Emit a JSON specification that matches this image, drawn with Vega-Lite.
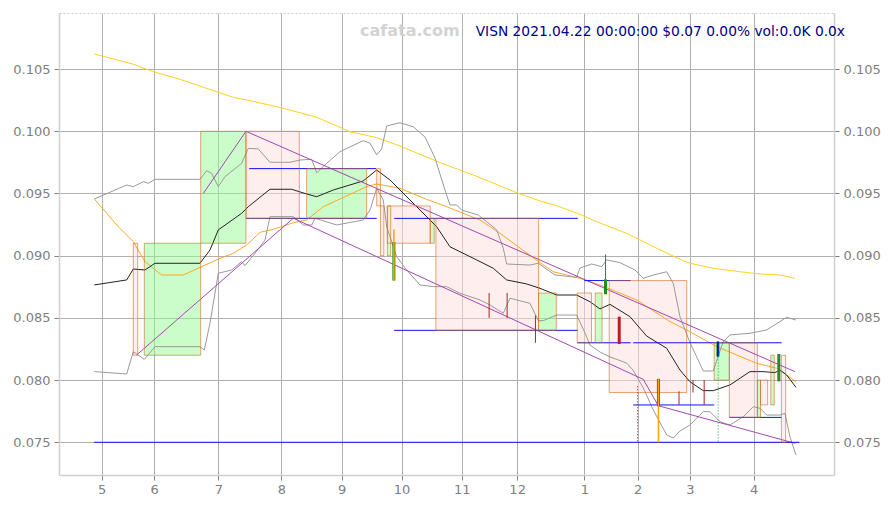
{
  "$schema": "https://vega.github.io/schema/vega-lite/v6.json",
  "width": 775,
  "height": 462,
  "autosize": {"type": "none"},
  "padding": {"left": 59, "top": 13, "right": 59, "bottom": 34},
  "background": "white",
  "title": {
    "text": "VISN 2021.04.22 00:00:00 $0.07 0.00% vol:0.0K 0.0x",
    "anchor": "end",
    "frame": "group",
    "orient": "top",
    "offset": -23,
    "baseline": "alphabetic",
    "dx": 11,
    "dy": 14,
    "font": "DejaVu Sans",
    "fontSize": 13.8,
    "fontWeight": "normal",
    "color": "#00008b"
  },
  "config": {"view": {"stroke": null}},
  "datasets": {
    "boxes": [
      {"t": 25.98, "t2": 27.52, "p": 0.091, "p2": 0.082, "dir": "down"},
      {"t": 29.83, "t2": 49.55, "p": 0.091, "p2": 0.082, "dir": "up"},
      {"t": 49.55, "t2": 65.38, "p": 0.100, "p2": 0.091, "dir": "up"},
      {"t": 65.38, "t2": 84.02, "p": 0.100, "p2": 0.093, "dir": "down"},
      {"t": 86.61, "t2": 107.59, "p": 0.097, "p2": 0.093, "dir": "up"},
      {"t": 111.1, "t2": 112.4, "p": 0.097, "p2": 0.094, "dir": "down"},
      {"t": 112.4, "t2": 113.6, "p": 0.094, "p2": 0.090, "dir": "down"},
      {"t": 114.8, "t2": 116.0, "p": 0.094, "p2": 0.090, "dir": "up"},
      {"t": 114.8, "t2": 129.8, "p": 0.094, "p2": 0.091, "dir": "down"},
      {"t": 129.8, "t2": 131.2, "p": 0.093, "p2": 0.091, "dir": "up"},
      {"t": 131.8, "t2": 167.7, "p": 0.093, "p2": 0.084, "dir": "down"},
      {"t": 167.7, "t2": 173.9, "p": 0.087, "p2": 0.084, "dir": "up"},
      {"t": 181.2, "t2": 186.2, "p": 0.087, "p2": 0.083, "dir": "down"},
      {"t": 187.5, "t2": 189.9, "p": 0.087, "p2": 0.083, "dir": "up"},
      {"t": 192.4, "t2": 219.5, "p": 0.088, "p2": 0.079, "dir": "down"},
      {"t": 229.1, "t2": 234.4, "p": 0.083, "p2": 0.080, "dir": "up"},
      {"t": 234.4, "t2": 244.2, "p": 0.083, "p2": 0.077, "dir": "down"},
      {"t": 244.2, "t2": 245.3, "p": 0.080, "p2": 0.077, "dir": "up"},
      {"t": 245.3, "t2": 247.8, "p": 0.080, "p2": 0.078, "dir": "down"},
      {"t": 248.9, "t2": 250.1, "p": 0.082, "p2": 0.078, "dir": "up"},
      {"t": 252.6, "t2": 254.1, "p": 0.082, "p2": 0.075, "dir": "down"}
    ],
    "levels": [
      {"t": 12.3, "t2": 258.9, "p": 0.075},
      {"t": 66.5, "t2": 110.9, "p": 0.097},
      {"t": 65.4, "t2": 111.1, "p": 0.093},
      {"t": 117.2, "t2": 181.4, "p": 0.093},
      {"t": 117.2, "t2": 181.4, "p": 0.084},
      {"t": 183.7, "t2": 199.9, "p": 0.088},
      {"t": 181.2, "t2": 199.9, "p": 0.083},
      {"t": 200.8, "t2": 252.7, "p": 0.083},
      {"t": 200.8, "t2": 229.1, "p": 0.078},
      {"t": 234.4, "t2": 252.6, "p": 0.077}
    ],
    "bodies": [
      {"t": 117.1, "p": 0.0911, "p2": 0.0880, "dir": "up"},
      {"t": 191.1, "p": 0.0881, "p2": 0.0869, "dir": "up"},
      {"t": 195.9, "p": 0.0851, "p2": 0.0829, "dir": "down"},
      {"t": 209.6, "p": 0.0801, "p2": 0.0779, "dir": "down"},
      {"t": 230.4, "p": 0.0831, "p2": 0.0819, "dir": "up"},
      {"t": 251.7, "p": 0.0821, "p2": 0.0799, "dir": "up"}
    ],
    "inner": [
      {"t": 117.1, "p": 0.0921, "p2": 0.0880, "kind": "spike"},
      {"t": 209.6, "p": 0.0801, "p2": 0.0750, "kind": "spike"},
      {"t": 230.4, "p": 0.0831, "p2": 0.0819, "kind": "pivot"}
    ],
    "wicks": [
      {"t": 191.1, "p": 0.0901, "p2": 0.0881, "dir": "up"},
      {"t": 150.4, "p": 0.0870, "p2": 0.0850, "dir": "down"},
      {"t": 156.7, "p": 0.0870, "p2": 0.0850, "dir": "down"},
      {"t": 166.6, "p": 0.0852, "p2": 0.0830, "dir": "down"},
      {"t": 216.8, "p": 0.0791, "p2": 0.0780, "dir": "down"},
      {"t": 221.7, "p": 0.0800, "p2": 0.0790, "dir": "down"},
      {"t": 225.6, "p": 0.0800, "p2": 0.0780, "dir": "down"}
    ],
    "dotted": [
      {"t": 230.5, "p": 0.0819, "p2": 0.0750, "dir": "up"},
      {"t": 202.3, "p": 0.0795, "p2": 0.0750, "dir": "down"}
    ],
    "label": [
      {"t": 122.7, "p": 0.1077, "text": "cafata.com"}
    ],
    "lines": [
      {"s": "ma_long", "t": 12.34, "p": 0.10622},
      {"s": "ma_long", "t": 25.98, "p": 0.10539},
      {"s": "ma_long", "t": 32.97, "p": 0.10479},
      {"s": "ma_long", "t": 42.31, "p": 0.10418},
      {"s": "ma_long", "t": 55.14, "p": 0.10318},
      {"s": "ma_long", "t": 60.94, "p": 0.10273},
      {"s": "ma_long", "t": 65.63, "p": 0.10252},
      {"s": "ma_long", "t": 78.43, "p": 0.10185},
      {"s": "ma_long", "t": 90.10, "p": 0.10113},
      {"s": "ma_long", "t": 101.75, "p": 0.09997},
      {"s": "ma_long", "t": 111.08, "p": 0.09949},
      {"s": "ma_long", "t": 119.23, "p": 0.09882},
      {"s": "ma_long", "t": 133.22, "p": 0.09748},
      {"s": "ma_long", "t": 144.86, "p": 0.09649},
      {"s": "ma_long", "t": 160.03, "p": 0.09507},
      {"s": "ma_long", "t": 168.18, "p": 0.09440},
      {"s": "ma_long", "t": 174.02, "p": 0.09402},
      {"s": "ma_long", "t": 182.17, "p": 0.09333},
      {"s": "ma_long", "t": 188.01, "p": 0.09273},
      {"s": "ma_long", "t": 198.50, "p": 0.09180},
      {"s": "ma_long", "t": 208.99, "p": 0.09060},
      {"s": "ma_long", "t": 217.13, "p": 0.08971},
      {"s": "ma_long", "t": 220.63, "p": 0.08939},
      {"s": "ma_long", "t": 228.78, "p": 0.08899},
      {"s": "ma_long", "t": 238.11, "p": 0.08871},
      {"s": "ma_long", "t": 245.10, "p": 0.08853},
      {"s": "ma_long", "t": 252.10, "p": 0.08845},
      {"s": "ma_long", "t": 257.34, "p": 0.08818},

      {"s": "ma_mid", "t": 12.34, "p": 0.09456},
      {"s": "ma_mid", "t": 20.74, "p": 0.09233},
      {"s": "ma_mid", "t": 25.98, "p": 0.09113},
      {"s": "ma_mid", "t": 30.07, "p": 0.08952},
      {"s": "ma_mid", "t": 35.91, "p": 0.08845},
      {"s": "ma_mid", "t": 43.46, "p": 0.08845},
      {"s": "ma_mid", "t": 56.29, "p": 0.08979},
      {"s": "ma_mid", "t": 60.94, "p": 0.09019},
      {"s": "ma_mid", "t": 65.63, "p": 0.09086},
      {"s": "ma_mid", "t": 70.28, "p": 0.09188},
      {"s": "ma_mid", "t": 74.93, "p": 0.09212},
      {"s": "ma_mid", "t": 81.92, "p": 0.09265},
      {"s": "ma_mid", "t": 86.61, "p": 0.09287},
      {"s": "ma_mid", "t": 92.41, "p": 0.09394},
      {"s": "ma_mid", "t": 107.59, "p": 0.09555},
      {"s": "ma_mid", "t": 111.08, "p": 0.09576},
      {"s": "ma_mid", "t": 119.23, "p": 0.09542},
      {"s": "ma_mid", "t": 128.57, "p": 0.09453},
      {"s": "ma_mid", "t": 135.56, "p": 0.09394},
      {"s": "ma_mid", "t": 147.20, "p": 0.09287},
      {"s": "ma_mid", "t": 154.20, "p": 0.09180},
      {"s": "ma_mid", "t": 161.19, "p": 0.09062},
      {"s": "ma_mid", "t": 167.73, "p": 0.08952},
      {"s": "ma_mid", "t": 172.83, "p": 0.08871},
      {"s": "ma_mid", "t": 182.17, "p": 0.08818},
      {"s": "ma_mid", "t": 189.16, "p": 0.08765},
      {"s": "ma_mid", "t": 201.99, "p": 0.08644},
      {"s": "ma_mid", "t": 213.64, "p": 0.08470},
      {"s": "ma_mid", "t": 219.48, "p": 0.08403},
      {"s": "ma_mid", "t": 229.97, "p": 0.08269},
      {"s": "ma_mid", "t": 243.95, "p": 0.08135},
      {"s": "ma_mid", "t": 250.95, "p": 0.08095},
      {"s": "ma_mid", "t": 254.44, "p": 0.08041},
      {"s": "ma_mid", "t": 257.69, "p": 0.07987},

      {"s": "ma_short", "t": 12.34, "p": 0.08765},
      {"s": "ma_short", "t": 23.67, "p": 0.08805},
      {"s": "ma_short", "t": 25.98, "p": 0.08893},
      {"s": "ma_short", "t": 30.07, "p": 0.08885},
      {"s": "ma_short", "t": 33.57, "p": 0.08939},
      {"s": "ma_short", "t": 49.30, "p": 0.08939},
      {"s": "ma_short", "t": 52.80, "p": 0.09046},
      {"s": "ma_short", "t": 55.70, "p": 0.09207},
      {"s": "ma_short", "t": 63.88, "p": 0.09341},
      {"s": "ma_short", "t": 66.19, "p": 0.09394},
      {"s": "ma_short", "t": 72.03, "p": 0.09502},
      {"s": "ma_short", "t": 73.78, "p": 0.09534},
      {"s": "ma_short", "t": 81.36, "p": 0.09534},
      {"s": "ma_short", "t": 86.61, "p": 0.09496},
      {"s": "ma_short", "t": 90.10, "p": 0.09474},
      {"s": "ma_short", "t": 95.91, "p": 0.09528},
      {"s": "ma_short", "t": 106.40, "p": 0.09601},
      {"s": "ma_short", "t": 111.08, "p": 0.09689},
      {"s": "ma_short", "t": 115.73, "p": 0.09609},
      {"s": "ma_short", "t": 122.73, "p": 0.09448},
      {"s": "ma_short", "t": 132.06, "p": 0.09233},
      {"s": "ma_short", "t": 136.71, "p": 0.09072},
      {"s": "ma_short", "t": 140.21, "p": 0.09032},
      {"s": "ma_short", "t": 146.05, "p": 0.08966},
      {"s": "ma_short", "t": 151.85, "p": 0.08899},
      {"s": "ma_short", "t": 156.54, "p": 0.08805},
      {"s": "ma_short", "t": 163.53, "p": 0.08773},
      {"s": "ma_short", "t": 168.18, "p": 0.08738},
      {"s": "ma_short", "t": 174.02, "p": 0.08684},
      {"s": "ma_short", "t": 181.01, "p": 0.08684},
      {"s": "ma_short", "t": 185.66, "p": 0.08630},
      {"s": "ma_short", "t": 189.16, "p": 0.08572},
      {"s": "ma_short", "t": 192.66, "p": 0.08609},
      {"s": "ma_short", "t": 199.65, "p": 0.08510},
      {"s": "ma_short", "t": 205.49, "p": 0.08354},
      {"s": "ma_short", "t": 212.48, "p": 0.08256},
      {"s": "ma_short", "t": 217.13, "p": 0.08081},
      {"s": "ma_short", "t": 220.63, "p": 0.07987},
      {"s": "ma_short", "t": 225.28, "p": 0.07915},
      {"s": "ma_short", "t": 228.78, "p": 0.07915},
      {"s": "ma_short", "t": 234.62, "p": 0.07961},
      {"s": "ma_short", "t": 241.61, "p": 0.08068},
      {"s": "ma_short", "t": 246.26, "p": 0.08068},
      {"s": "ma_short", "t": 250.35, "p": 0.08060},
      {"s": "ma_short", "t": 252.10, "p": 0.08081},
      {"s": "ma_short", "t": 254.44, "p": 0.08041},
      {"s": "ma_short", "t": 257.69, "p": 0.07942},

      {"s": "band_up", "t": 12.34, "p": 0.09456},
      {"s": "band_up", "t": 23.67, "p": 0.09568},
      {"s": "band_up", "t": 25.98, "p": 0.09555},
      {"s": "band_up", "t": 29.48, "p": 0.09595},
      {"s": "band_up", "t": 31.22, "p": 0.09582},
      {"s": "band_up", "t": 33.57, "p": 0.09614},
      {"s": "band_up", "t": 49.30, "p": 0.09614},
      {"s": "band_up", "t": 51.64, "p": 0.09683},
      {"s": "band_up", "t": 53.39, "p": 0.09662},
      {"s": "band_up", "t": 55.70, "p": 0.09555},
      {"s": "band_up", "t": 58.04, "p": 0.09635},
      {"s": "band_up", "t": 63.88, "p": 0.09743},
      {"s": "band_up", "t": 66.19, "p": 0.09863},
      {"s": "band_up", "t": 69.69, "p": 0.09858},
      {"s": "band_up", "t": 73.78, "p": 0.09751},
      {"s": "band_up", "t": 80.77, "p": 0.09751},
      {"s": "band_up", "t": 84.27, "p": 0.09769},
      {"s": "band_up", "t": 88.36, "p": 0.09775},
      {"s": "band_up", "t": 90.10, "p": 0.09667},
      {"s": "band_up", "t": 93.60, "p": 0.09743},
      {"s": "band_up", "t": 98.25, "p": 0.09836},
      {"s": "band_up", "t": 106.40, "p": 0.09925},
      {"s": "band_up", "t": 108.74, "p": 0.09904},
      {"s": "band_up", "t": 111.08, "p": 0.09810},
      {"s": "band_up", "t": 112.83, "p": 0.09858},
      {"s": "band_up", "t": 114.58, "p": 0.10043},
      {"s": "band_up", "t": 119.23, "p": 0.10069},
      {"s": "band_up", "t": 123.88, "p": 0.10037},
      {"s": "band_up", "t": 127.97, "p": 0.09954},
      {"s": "band_up", "t": 131.47, "p": 0.09785},
      {"s": "band_up", "t": 134.97, "p": 0.09528},
      {"s": "band_up", "t": 136.71, "p": 0.09408},
      {"s": "band_up", "t": 139.06, "p": 0.09408},
      {"s": "band_up", "t": 140.80, "p": 0.09367},
      {"s": "band_up", "t": 146.61, "p": 0.09327},
      {"s": "band_up", "t": 149.55, "p": 0.09273},
      {"s": "band_up", "t": 153.04, "p": 0.09207},
      {"s": "band_up", "t": 155.35, "p": 0.09060},
      {"s": "band_up", "t": 156.54, "p": 0.08933},
      {"s": "band_up", "t": 164.69, "p": 0.08925},
      {"s": "band_up", "t": 167.59, "p": 0.08939},
      {"s": "band_up", "t": 173.43, "p": 0.08845},
      {"s": "band_up", "t": 181.01, "p": 0.08826},
      {"s": "band_up", "t": 182.17, "p": 0.08901},
      {"s": "band_up", "t": 186.26, "p": 0.08933},
      {"s": "band_up", "t": 189.76, "p": 0.08912},
      {"s": "band_up", "t": 191.50, "p": 0.08966},
      {"s": "band_up", "t": 196.15, "p": 0.08944},
      {"s": "band_up", "t": 201.40, "p": 0.08885},
      {"s": "band_up", "t": 204.30, "p": 0.08818},
      {"s": "band_up", "t": 207.80, "p": 0.08845},
      {"s": "band_up", "t": 212.48, "p": 0.08871},
      {"s": "band_up", "t": 214.79, "p": 0.08778},
      {"s": "band_up", "t": 217.13, "p": 0.08510},
      {"s": "band_up", "t": 220.63, "p": 0.08302},
      {"s": "band_up", "t": 225.28, "p": 0.08073},
      {"s": "band_up", "t": 228.78, "p": 0.08073},
      {"s": "band_up", "t": 232.17, "p": 0.08306},
      {"s": "band_up", "t": 234.62, "p": 0.08363},
      {"s": "band_up", "t": 241.61, "p": 0.08376},
      {"s": "band_up", "t": 247.45, "p": 0.08403},
      {"s": "band_up", "t": 252.10, "p": 0.08470},
      {"s": "band_up", "t": 254.44, "p": 0.08505},
      {"s": "band_up", "t": 257.69, "p": 0.08483},

      {"s": "band_low", "t": 12.34, "p": 0.08068},
      {"s": "band_low", "t": 23.67, "p": 0.08049},
      {"s": "band_low", "t": 25.98, "p": 0.08228},
      {"s": "band_low", "t": 29.83, "p": 0.08167},
      {"s": "band_low", "t": 33.57, "p": 0.08269},
      {"s": "band_low", "t": 49.30, "p": 0.08269},
      {"s": "band_low", "t": 50.80, "p": 0.08242},
      {"s": "band_low", "t": 52.80, "p": 0.08457},
      {"s": "band_low", "t": 55.70, "p": 0.08859},
      {"s": "band_low", "t": 60.38, "p": 0.08885},
      {"s": "band_low", "t": 63.88, "p": 0.08952},
      {"s": "band_low", "t": 65.03, "p": 0.08920},
      {"s": "band_low", "t": 68.53, "p": 0.09019},
      {"s": "band_low", "t": 72.03, "p": 0.09126},
      {"s": "band_low", "t": 73.78, "p": 0.09314},
      {"s": "band_low", "t": 81.92, "p": 0.09314},
      {"s": "band_low", "t": 85.42, "p": 0.09247},
      {"s": "band_low", "t": 88.36, "p": 0.09247},
      {"s": "band_low", "t": 89.51, "p": 0.09301},
      {"s": "band_low", "t": 97.10, "p": 0.09247},
      {"s": "band_low", "t": 106.40, "p": 0.09287},
      {"s": "band_low", "t": 108.74, "p": 0.09367},
      {"s": "band_low", "t": 111.08, "p": 0.09542},
      {"s": "band_low", "t": 113.39, "p": 0.09448},
      {"s": "band_low", "t": 114.58, "p": 0.09233},
      {"s": "band_low", "t": 118.08, "p": 0.08992},
      {"s": "band_low", "t": 121.57, "p": 0.08885},
      {"s": "band_low", "t": 126.22, "p": 0.08765},
      {"s": "band_low", "t": 130.87, "p": 0.08751},
      {"s": "band_low", "t": 135.56, "p": 0.08751},
      {"s": "band_low", "t": 140.21, "p": 0.08698},
      {"s": "band_low", "t": 147.20, "p": 0.08644},
      {"s": "band_low", "t": 150.70, "p": 0.08604},
      {"s": "band_low", "t": 155.35, "p": 0.08537},
      {"s": "band_low", "t": 157.69, "p": 0.08658},
      {"s": "band_low", "t": 164.69, "p": 0.08617},
      {"s": "band_low", "t": 167.59, "p": 0.08478},
      {"s": "band_low", "t": 169.34, "p": 0.08478},
      {"s": "band_low", "t": 174.02, "p": 0.08523},
      {"s": "band_low", "t": 181.01, "p": 0.08523},
      {"s": "band_low", "t": 183.92, "p": 0.08379},
      {"s": "band_low", "t": 185.66, "p": 0.08282},
      {"s": "band_low", "t": 189.16, "p": 0.08226},
      {"s": "band_low", "t": 192.66, "p": 0.08186},
      {"s": "band_low", "t": 198.50, "p": 0.08137},
      {"s": "band_low", "t": 200.70, "p": 0.08081},
      {"s": "band_low", "t": 204.30, "p": 0.07937},
      {"s": "band_low", "t": 207.80, "p": 0.07760},
      {"s": "band_low", "t": 212.48, "p": 0.07559},
      {"s": "band_low", "t": 214.79, "p": 0.07535},
      {"s": "band_low", "t": 217.13, "p": 0.07591},
      {"s": "band_low", "t": 220.63, "p": 0.07639},
      {"s": "band_low", "t": 225.28, "p": 0.07746},
      {"s": "band_low", "t": 227.62, "p": 0.07746},
      {"s": "band_low", "t": 231.12, "p": 0.07666},
      {"s": "band_low", "t": 234.62, "p": 0.07639},
      {"s": "band_low", "t": 239.27, "p": 0.07706},
      {"s": "band_low", "t": 242.76, "p": 0.07786},
      {"s": "band_low", "t": 245.10, "p": 0.07773},
      {"s": "band_low", "t": 247.45, "p": 0.07719},
      {"s": "band_low", "t": 252.10, "p": 0.07719},
      {"s": "band_low", "t": 253.85, "p": 0.07733},
      {"s": "band_low", "t": 255.59, "p": 0.07545},
      {"s": "band_low", "t": 257.69, "p": 0.07398},

      {"s": "trend_up", "t": 50.45, "p": 0.0950},
      {"s": "trend_up", "t": 65.38, "p": 0.1000},
      {"s": "trend_up", "t": 257.34, "p": 0.08068},

      {"s": "trend_low", "t": 27.17, "p": 0.08202},
      {"s": "trend_low", "t": 81.92, "p": 0.09301},
      {"s": "trend_low", "t": 204.30, "p": 0.08006},
      {"s": "trend_low", "t": 209.55, "p": 0.07794},
      {"s": "trend_low", "t": 257.34, "p": 0.07492}
    ]
  },
  "encoding": {
    "x": {"field": "t", "type": "quantitative", "scale": {"domain": [0, 271], "nice": false, "zero": false}, "axis": null},
    "y": {"field": "p", "type": "quantitative", "scale": {"domain": [0.07237, 0.10951], "nice": false, "zero": false}, "axis": null}
  },
  "layer": [
    {
      "data": {"name": "boxes"},
      "mark": {"type": "rect", "fillOpacity": 0.5, "strokeWidth": 0},
      "encoding": {
        "x": {
          "field": "t", "type": "quantitative",
          "scale": {"domain": [0, 271], "nice": false, "zero": false},
          "axis": {
            "orient": "bottom",
            "values": [14.9, 33.3, 55.7, 77.8, 98.8, 119.8, 140.8, 160.2, 183.7, 202.3, 220.6, 242.9],
            "labelExpr": "['5','6','7','8','9','10','11','12','1','2','3','4'][indexof([14.9, 33.3, 55.7, 77.8, 98.8, 119.8, 140.8, 160.2, 183.7, 202.3, 220.6, 242.9], datum.value)]",
            "title": null,
            "grid": true, "gridColor": "#b0b0b0", "gridWidth": 1,
            "domainColor": "#d0d0d0", "domainWidth": 1.5,
            "tickColor": "#808080", "tickSize": 5, "tickWidth": 1,
            "labelColor": "#808080", "labelFont": "DejaVu Sans", "labelFontSize": 13,
            "labelPadding": 3, "labelFlush": false, "labelOverlap": false, "labelBound": false
          }
        },
        "x2": {"field": "t2"},
        "y": {
          "field": "p", "type": "quantitative",
          "scale": {"domain": [0.07237, 0.10951], "nice": false, "zero": false},
          "axis": {
            "orient": "left",
            "values": [0.075, 0.08, 0.085, 0.09, 0.095, 0.1, 0.105],
            "format": ".3f",
            "title": null,
            "grid": true, "gridColor": "#b0b0b0", "gridWidth": 1,
            "domainColor": "#d0d0d0", "domainWidth": 1.5,
            "tickColor": "#808080", "tickSize": 5, "tickWidth": 1,
            "labelColor": "#808080", "labelFont": "DejaVu Sans", "labelFontSize": 13,
            "labelPadding": 4, "labelOverlap": false, "labelBound": false
          }
        },
        "y2": {"field": "p2"},
        "color": {"field": "dir", "type": "nominal", "scale": {"domain": ["up", "down"], "range": ["#98fb98", "#ffdddd"]}, "legend": null}
      }
    },
    {
      "data": {"name": "lines"},
      "mark": {"type": "line", "strokeWidth": 1},
      "encoding": {
        "color": {
          "field": "s", "type": "nominal",
          "scale": {
            "domain": ["ma_long", "ma_mid", "ma_short", "band_up", "band_low", "trend_up", "trend_low"],
            "range": ["#ffd21f", "#ffa726", "#222222", "#9a9a9a", "#9a9a9a", "#a448b0", "#a448b0"]
          },
          "legend": null
        }
      }
    },
    {
      "data": {"name": "levels"},
      "mark": {"type": "rule", "color": "#1010ff", "strokeWidth": 1},
      "encoding": {"x2": {"field": "t2"}}
    },
    {
      "data": {"name": "boxes"},
      "mark": {"type": "rect", "filled": false, "stroke": "#d2691e", "strokeOpacity": 0.6, "strokeWidth": 1},
      "encoding": {
        "x": {
          "field": "t", "type": "quantitative",
          "scale": {"domain": [0, 271], "nice": false, "zero": false},
          "axis": {
            "orient": "top", "values": [], "title": null,
            "grid": false, "labels": false, "ticks": false,
            "domainColor": "#c8c8c8", "domainDash": [2, 2], "domainWidth": 1
          }
        },
        "x2": {"field": "t2"},
        "y": {
          "field": "p", "type": "quantitative",
          "scale": {"domain": [0.07237, 0.10951], "nice": false, "zero": false},
          "axis": {
            "orient": "right",
            "values": [0.075, 0.08, 0.085, 0.09, 0.095, 0.1, 0.105],
            "format": ".3f",
            "title": null,
            "grid": false,
            "domainColor": "#d0d0d0", "domainWidth": 1.5,
            "tickColor": "#808080", "tickSize": 5, "tickWidth": 1,
            "labelColor": "#808080", "labelFont": "DejaVu Sans", "labelFontSize": 13,
            "labelPadding": 4, "labelOverlap": false, "labelBound": false
          }
        },
        "y2": {"field": "p2"}
      }
    },
    {
      "data": {"name": "dotted"},
      "mark": {"type": "rule", "strokeWidth": 1, "strokeDash": [1, 2]},
      "encoding": {
        "y2": {"field": "p2"},
        "color": {"field": "dir", "type": "nominal", "scale": {"domain": ["up", "down"], "range": ["#2e9e2e", "#a03030"]}, "legend": null}
      }
    },
    {
      "data": {"name": "wicks"},
      "mark": {"type": "rule", "strokeWidth": 1},
      "encoding": {
        "y2": {"field": "p2"},
        "color": {"field": "dir", "type": "nominal", "scale": {"domain": ["up", "down"], "range": ["#228b22", "#b22222"]}, "legend": null}
      }
    },
    {
      "data": {"name": "bodies"},
      "mark": {"type": "rule", "strokeWidth": 3},
      "encoding": {
        "y2": {"field": "p2"},
        "color": {"field": "dir", "type": "nominal", "scale": {"domain": ["up", "down"], "range": ["#228b22", "#b22222"]}, "legend": null}
      }
    },
    {
      "data": {"name": "inner"},
      "mark": {"type": "rule", "strokeWidth": 1.5},
      "encoding": {
        "y2": {"field": "p2"},
        "color": {"field": "kind", "type": "nominal", "scale": {"domain": ["spike", "pivot"], "range": ["#ffa500", "#0000ff"]}, "legend": null}
      }
    },
    {
      "data": {"name": "label"},
      "mark": {"type": "text", "font": "DejaVu Sans", "fontWeight": "bold", "fontSize": 16, "color": "#d3d3d3", "align": "center", "baseline": "alphabetic"},
      "encoding": {"text": {"field": "text"}}
    }
  ],
  "resolve": {
    "scale": {"color": "independent"},
    "axis": {"x": "independent", "y": "independent"}
  }
}
